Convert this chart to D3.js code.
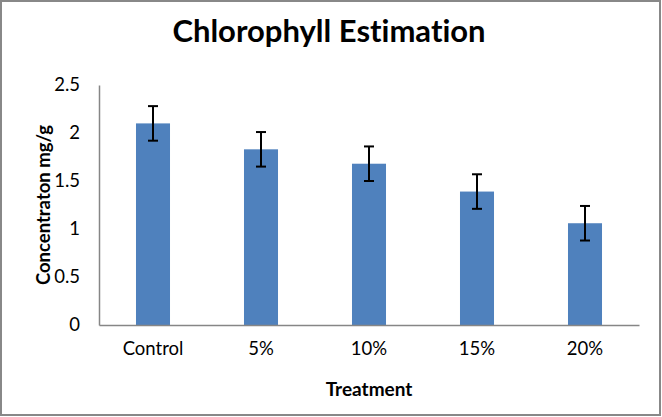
<!DOCTYPE html>
<html><head><meta charset="utf-8">
<script src="https://cdn.jsdelivr.net/npm/d3@7"></script>
<style>html,body{margin:0;padding:0;background:#fff;}svg{display:block;}text{font-variant-ligatures:none;font-feature-settings:"liga" 0;}</style>
</head><body>
<svg id="chart" width="662" height="417"></svg>
<script>
const categories = ["Control", "5%", "10%", "15%", "20%"];
const values = [2.10, 1.83, 1.68, 1.39, 1.06];
const errors = [0.18, 0.18, 0.18, 0.18, 0.18];
const yTicks = [0, 0.5, 1, 1.5, 2, 2.5];
const yTickLabels = ["0", "0.5", "1", "1.5", "2", "2.5"];
const titleText = "Chlorophyll Estimation";
const xTitle = "Treatment";
const yTitle = "Concentraton mg/g";

const svg = d3.select("#chart");
const W = 662, H = 417;
const m = {left: 99, right: 23, top: 85, bottom: 92};
const font = "Lato, 'Open Sans', sans-serif";

svg.append("rect").attr("x", 1).attr("y", 1).attr("width", W - 3).attr("height", H - 3)
  .attr("fill", "#fff").attr("stroke", "#888").attr("stroke-width", 2);

const x = d3.scaleBand().domain(categories).range([m.left, W - m.right]).padding(0);
const y = d3.scaleLinear().domain([0, 2.5]).range([H - m.bottom, m.top]);
const barW = x.bandwidth() * 0.315;

// bars
svg.append("g").selectAll("rect").data(values).join("rect")
  .attr("x", (d, i) => x(categories[i]) + x.bandwidth() / 2 - barW / 2)
  .attr("y", d => y(d))
  .attr("width", barW)
  .attr("height", d => y(0) - y(d))
  .attr("fill", "#4F81BD");

// error bars
const eg = svg.append("g").attr("stroke", "#000").attr("stroke-width", 2).attr("fill", "none");
values.forEach((v, i) => {
  const cx = x(categories[i]) + x.bandwidth() / 2;
  const top = y(v + errors[i]), bot = y(v - errors[i]);
  eg.append("line").attr("x1", cx).attr("x2", cx).attr("y1", top).attr("y2", bot);
  eg.append("line").attr("x1", cx - 5).attr("x2", cx + 5).attr("y1", top).attr("y2", top);
  eg.append("line").attr("x1", cx - 5).attr("x2", cx + 5).attr("y1", bot).attr("y2", bot);
});

// y axis
const yAxis = d3.axisLeft(y).tickValues(yTicks).tickFormat((d, i) => yTickLabels[i]).tickSize(0).tickPadding(19);
const gy = svg.append("g").attr("transform", `translate(${m.left},0)`).call(yAxis);
gy.select(".domain").attr("stroke", "#868686").attr("stroke-width", 1.5);
gy.selectAll("text").attr("font-family", font).attr("font-size", 18.5).attr("fill", "#000");

// x axis
const xAxis = d3.axisBottom(x).tickSize(0).tickPadding(17);
const gx = svg.append("g").attr("transform", `translate(0,${y(0)})`).call(xAxis);
gx.select(".domain").attr("stroke", "#868686").attr("stroke-width", 1.5);
gx.selectAll("text").attr("font-family", font).attr("font-size", 18.5).attr("fill", "#000");

// titles
svg.append("text").attr("x", 329).attr("y", 42).attr("text-anchor", "middle")
  .attr("font-family", font).attr("font-weight", "bold").attr("font-size", 31).text(titleText);
svg.append("text").attr("x", (m.left + W - m.right) / 2).attr("y", 396).attr("text-anchor", "middle")
  .attr("font-family", font).attr("font-weight", "bold").attr("font-size", 19).text(xTitle);
svg.append("text").attr("transform", `translate(50,${(m.top + H - m.bottom) / 2}) rotate(-90)`)
  .attr("text-anchor", "middle")
  .attr("font-family", font).attr("font-weight", "bold").attr("font-size", 18.5).text(yTitle);
</script>
</body></html>
